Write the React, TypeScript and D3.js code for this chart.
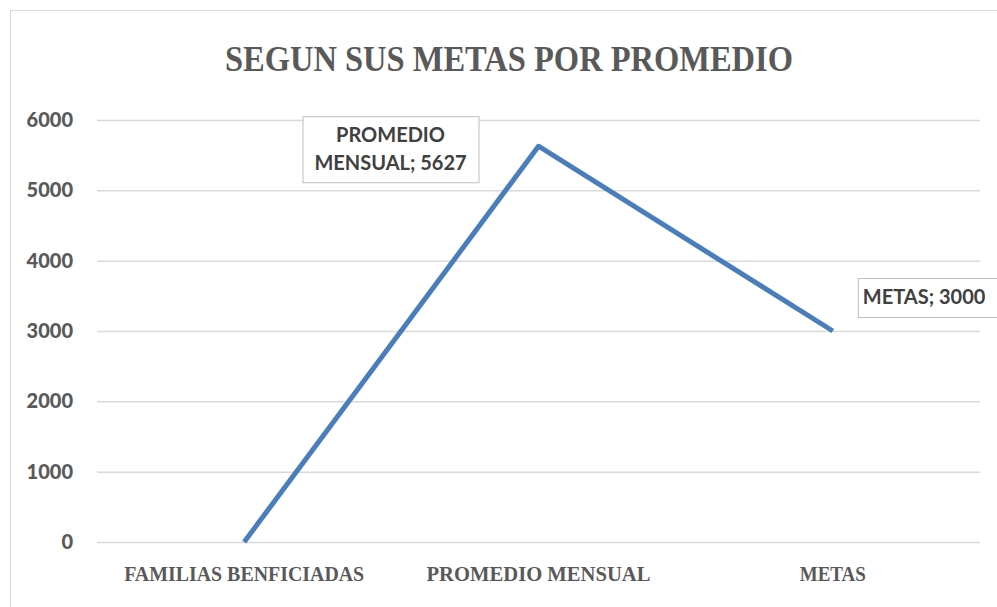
import React, { useEffect, useRef } from 'react'
import * as d3 from 'd3'

const categories = ['FAMILIAS BENFICIADAS', 'PROMEDIO MENSUAL', 'METAS']
const values = [0, 5627, 3000]
const yTicks = [0, 1000, 2000, 3000, 4000, 5000, 6000]
const title = 'SEGUN SUS METAS POR PROMEDIO'

const W = 997
const H = 607

const App = () => {
  const svgRef = useRef<SVGSVGElement>(null)

  useEffect(() => {
    if (!svgRef.current) return
    const svg = d3.select(svgRef.current)
    svg.selectAll('*').remove()

    const margin = { top: 120, right: 17, bottom: 65, left: 97 }
    const gray = '#595959'
    const sans = 'Lato, "Liberation Sans", sans-serif'
    const serif = '"Liberation Serif", "DejaVu Serif", serif'

    const x = d3
      .scaleBand<string>()
      .domain(categories)
      .range([margin.left, W - margin.right])
    const y = d3
      .scaleLinear()
      .domain([0, 6000])
      .range([H - margin.bottom, margin.top])

    // chart frame
    svg
      .append('rect')
      .attr('x', 10.5)
      .attr('y', 10.5)
      .attr('width', 1100)
      .attr('height', 800)
      .attr('fill', '#fff')
      .attr('stroke', '#d9d9d9')

    svg
      .append('text')
      .attr('x', 509)
      .attr('y', 71)
      .attr('text-anchor', 'middle')
      .attr('font-family', serif)
      .attr('font-weight', 'bold')
      .attr('font-size', 35)
      .attr('fill', gray)
      .attr('textLength', 568)
      .attr('lengthAdjust', 'spacingAndGlyphs')
      .text(title)

    // gridlines + y labels
    const yAxis = d3
      .axisLeft(y)
      .tickValues(yTicks)
      .tickFormat(d3.format('d'))
      .tickSize(-(W - margin.left - margin.right))
      .tickPadding(24)
    svg
      .append('g')
      .attr('transform', `translate(${margin.left},0)`)
      .call(yAxis)
      .call((g) => g.select('.domain').remove())
      .call((g) => g.selectAll('.tick line').attr('stroke', '#d9d9d9').attr('stroke-width', 1.5))
      .call((g) =>
        g
          .selectAll('.tick text')
          .attr('font-family', sans)
          .attr('font-weight', 900)
          .attr('font-size', 20)
          .attr('fill', gray),
      )

    // category labels
    const labelWidths = [240, 224, 66]
    const xAxis = d3.axisBottom(x).tickSize(0).tickPadding(25)
    svg
      .append('g')
      .attr('transform', `translate(0,${y(0)})`)
      .call(xAxis)
      .call((g) => g.select('.domain').remove())
      .call((g) =>
        g
          .selectAll<SVGTextElement, string>('.tick text')
          .attr('font-family', serif)
          .attr('font-weight', 'bold')
          .attr('font-size', 20)
          .attr('fill', gray)
          .attr('textLength', (d) => labelWidths[categories.indexOf(d)])
          .attr('lengthAdjust', 'spacingAndGlyphs'),
      )

    const cx = (d: string) => (x(d) as number) + x.bandwidth() / 2
    const line = d3
      .line<number>()
      .x((_, i) => cx(categories[i]))
      .y((d) => y(d))
    svg
      .append('path')
      .attr('d', line(values))
      .attr('fill', 'none')
      .attr('stroke', '#4a7ebb')
      .attr('stroke-width', 5)
      .attr('stroke-linejoin', 'round')

    // data labels
    const labelBox = (
      bx: number,
      by: number,
      bw: number,
      bh: number,
      lines: string[],
      anchor: 'middle' | 'start',
    ) => {
      const g = svg.append('g')
      g.append('rect')
        .attr('x', bx + 0.5)
        .attr('y', by + 0.5)
        .attr('width', bw)
        .attr('height', bh)
        .attr('fill', '#fff')
        .attr('stroke', '#bfbfbf')
      lines.forEach((t, i) => {
        g.append('text')
          .attr('x', anchor === 'middle' ? bx + bw / 2 : bx + 5)
          .attr('y', by + 26 + i * 28)
          .attr('text-anchor', anchor)
          .attr('font-family', sans)
          .attr('font-weight', 'bold')
          .attr('font-size', 20)
          .attr('fill', '#404040')
          .text(t)
      })
    }
    const p1 = values[1]
    labelBox(cx(categories[1]) - 236, y(p1) - 30, 176, 66, ['PROMEDIO', `MENSUAL; ${p1}`], 'middle')
    const p2 = values[2]
    labelBox(cx(categories[2]) + 25, y(p2) - 53, 145, 39, [`METAS; ${p2}`], 'start')
  }, [])

  return (
    <svg
      ref={svgRef}
      width={W}
      height={H}
      style={{ position: 'absolute', left: 0, top: 0, background: '#fff' }}
    />
  )
}

export default App
